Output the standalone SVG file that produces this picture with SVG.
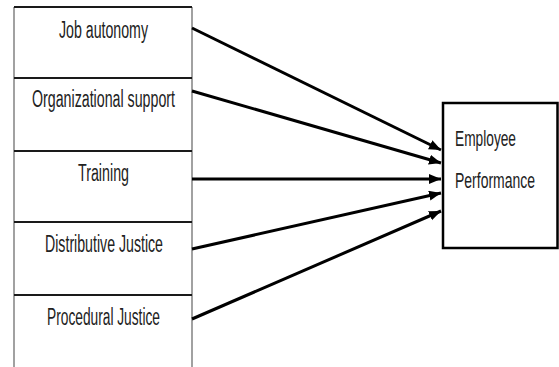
<svg xmlns="http://www.w3.org/2000/svg" width="559" height="367" viewBox="0 0 559 367">
<style>
.lbl{font-family:"Liberation Sans","DejaVu Sans",sans-serif;font-size:23px;fill:#222;}
.lbl2{font-family:"Liberation Sans","DejaVu Sans",sans-serif;font-size:18px;fill:#222;}
.div{stroke:#1a1a1a;stroke-width:2;}
.side{stroke:#8a8a8a;stroke-width:1.6;}
.arr{stroke:#000;stroke-width:3;fill:none;marker-end:url(#ah);}
</style>
<defs>
<marker id="ah" markerUnits="userSpaceOnUse" markerWidth="14" markerHeight="12" refX="12" refY="5" orient="auto">
<path d="M0,0 L12,5 L0,10 Z" fill="#000"/>
</marker>
</defs>
<rect width="559" height="367" fill="#fff"/>
<g id="column">
<line class="side" x1="14" y1="7" x2="14" y2="367"/>
<line class="side" x1="192" y1="7" x2="192" y2="367"/>
</g>
<g id="job-autonomy">
<line class="div" x1="14" y1="7" x2="192" y2="7"/>
<text class="lbl" x="103.5" y="38" text-anchor="middle" textLength="89" lengthAdjust="spacingAndGlyphs">Job autonomy</text>
</g>
<g id="organizational-support">
<line class="div" x1="14" y1="78" x2="192" y2="78"/>
<text class="lbl" x="103.5" y="107" text-anchor="middle" textLength="143" lengthAdjust="spacingAndGlyphs">Organizational support</text>
</g>
<g id="training">
<line class="div" x1="14" y1="151" x2="192" y2="151"/>
<text class="lbl" x="103.5" y="181" text-anchor="middle" textLength="51" lengthAdjust="spacingAndGlyphs">Training</text>
</g>
<g id="distributive-justice">
<line class="div" x1="14" y1="222" x2="192" y2="222"/>
<text class="lbl" x="104" y="252" text-anchor="middle" textLength="118" lengthAdjust="spacingAndGlyphs">Distributive Justice</text>
</g>
<g id="procedural-justice">
<line class="div" x1="14" y1="295" x2="192" y2="295"/>
<text class="lbl" x="103.5" y="325" text-anchor="middle" textLength="113" lengthAdjust="spacingAndGlyphs">Procedural Justice</text>
</g>
<g id="employee-performance">
<rect x="443" y="103" width="114.5" height="145" fill="none" stroke="#000" stroke-width="2.5"/>
<text class="lbl2" transform="translate(455,146) scale(1,1.25)" textLength="61" lengthAdjust="spacingAndGlyphs">Employee</text>
<text class="lbl2" transform="translate(455,188) scale(1,1.25)" textLength="80" lengthAdjust="spacingAndGlyphs">Performance</text>
</g>
<g id="connectors">
<line class="arr" x1="192" y1="28" x2="441" y2="150"/>
<line class="arr" x1="192" y1="91" x2="441" y2="163"/>
<line class="arr" x1="192" y1="179" x2="441" y2="179"/>
<line class="arr" x1="192" y1="249" x2="441" y2="193"/>
<line class="arr" x1="192" y1="319" x2="441" y2="211"/>
</g>
</svg>
